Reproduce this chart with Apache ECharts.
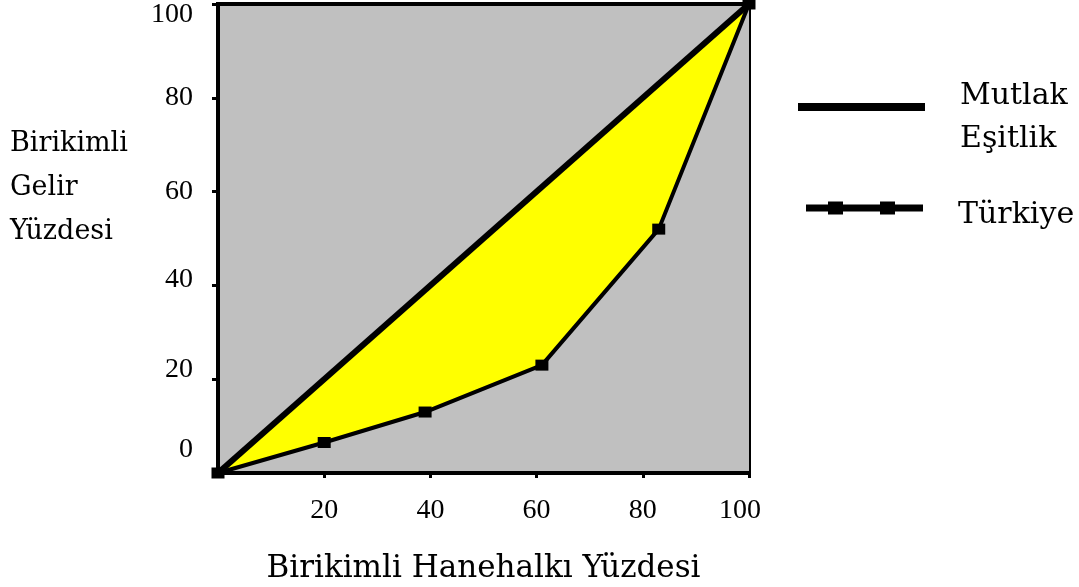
<!DOCTYPE html>
<html>
<head>
<meta charset="utf-8">
<script src="https://cdn.jsdelivr.net/npm/echarts@6/dist/echarts.min.js"></script>
<style>
  html, body { margin: 0; padding: 0; background: #fff; }
  #chart { width: 1079px; height: 587px; }
</style>
</head>
<body>
<div id="chart"></div>
<script>
// data
const households = [0, 20, 39, 61, 83, 100];
const turkeyIncome = [0, 6.5, 13, 23, 52, 100];
const equalityX = [0, 100];
const equalityY = [0, 100];
const xTicks = [20, 40, 60, 80, 100];

const serif = 'DejaVu Serif';
const numFont = 'Liberation Serif';

// labels in the picture sit a bit off their ticks
const yLabelStyle = {
    fontFamily: numFont, fontSize: 28, color: '#000'
};

const chart = echarts.init(document.getElementById('chart'));
chart.setOption({
    backgroundColor: '#fff',
    animation: false,
    title: {
        text: 'Birikimli\nGelir\nYüzdesi',
        left: 5,
        top: 117,
        textStyle: {
            fontFamily: serif,
            fontSize: 27,
            fontWeight: 'normal',
            color: '#000',
            lineHeight: 44
        }
    },
    legend: [{
        data: ['Mutlak Eşitlik'],
        left: 793,
        top: 70,
        itemWidth: 127,
        itemHeight: 30,
        icon: 'path://M0,0 L127,0 L127,8 L0,8 Z M0,30 L0.01,30 L0,30 Z',
        itemStyle: { color: '#000', borderWidth: 0 },
        formatter: () => 'Mutlak\nEşitlik',
        textStyle: {
            fontFamily: serif, fontSize: 30, color: '#000',
            lineHeight: 43, padding: [0, 0, 0, 30]
        }
    }, {
        data: ['Türkiye'],
        left: 801,
        top: 193,
        itemWidth: 117,
        itemHeight: 27,
        icon: 'path://M0,3 L117,3 L117,10 L0,10 Z M22,0 L37,0 L37,13 L22,13 Z M74,0 L89,0 L89,13 L74,13 Z M0,27 L0.01,27 L0,27 Z',
        itemStyle: { color: '#000', borderWidth: 0 },
        textStyle: {
            fontFamily: serif, fontSize: 30, color: '#000',
            lineHeight: 34, padding: [0, 0, 0, 30]
        }
    }],
    grid: {
        left: 218,
        right: 330,
        top: 4,
        bottom: 114,
        outerBoundsMode: 'none',
        containLabel: false,
        show: true,
        backgroundColor: '#c0c0c0',
        borderColor: '#000',
        borderWidth: 4
    },
    xAxis: {
        type: 'value',
        min: 0,
        max: 100,
        interval: 20,
        z: 10,
        name: 'Birikimli Hanehalkı Yüzdesi',
        nameLocation: 'middle',
        nameGap: 80,
        nameTextStyle: { fontFamily: serif, fontSize: 31, color: '#000' },
        axisLine: { lineStyle: { color: '#000', width: 4 } },
        axisTick: { length: 5, lineStyle: { color: '#000', width: 3 } },
        axisLabel: {
            margin: 24,
            fontFamily: numFont,
            fontSize: 28,
            color: '#000',
            formatter: v => (v === 100 ? '{h|100}' : xTicks.includes(v) ? String(v) : ''),
            rich: {
                h: Object.assign({ padding: [0, 18, 14, 0] }, yLabelStyle)
            }
        },
        splitLine: { show: false }
    },
    yAxis: {
        type: 'value',
        min: 0,
        max: 100,
        interval: 20,
        z: 10,
        axisLine: { show: true, lineStyle: { color: '#000', width: 4 } },
        axisTick: { show: true, length: 6, lineStyle: { color: '#000', width: 3 } },
        axisLabel: {
            margin: 25,
            fontFamily: numFont,
            fontSize: 28,
            color: '#000',
            formatter: v => {
                if (v === 0) return '{z|0}';
                if (v === 20) return '{t|20}';
                if (v === 40) return '{f|40}';
                if (v === 100) return '{h|100}';
                return String(v);
            },
            rich: {
                z: Object.assign({ padding: [0, 0, 46, 0] }, yLabelStyle),
                t: Object.assign({ padding: [0, 0, 20, 0] }, yLabelStyle),
                f: Object.assign({ padding: [0, 0, 12, 0] }, yLabelStyle),
                h: Object.assign({ padding: [22, 0, 0, 0] }, yLabelStyle)
            }
        },
        splitLine: { show: false }
    },
    series: [{
        name: 'Mutlak Eşitlik',
        type: 'line',
        z: 3,
        data: equalityX.map((x, i) => [x, equalityY[i]]),
        symbol: 'none',
        lineStyle: { color: '#000', width: 6 },
        itemStyle: { color: '#000' },
        areaStyle: { color: '#ffff00', opacity: 1 }
    }, {
        name: 'Türkiye',
        type: 'line',
        z: 4,
        data: households.map((x, i) => [x, turkeyIncome[i]]),
        symbol: 'rect',
        symbolSize: [13, 11],
        showSymbol: true,
        lineStyle: { color: '#000', width: 4 },
        itemStyle: { color: '#000' },
        areaStyle: { color: '#c0c0c0', opacity: 1 }
    }]
});
</script>
</body>
</html>
